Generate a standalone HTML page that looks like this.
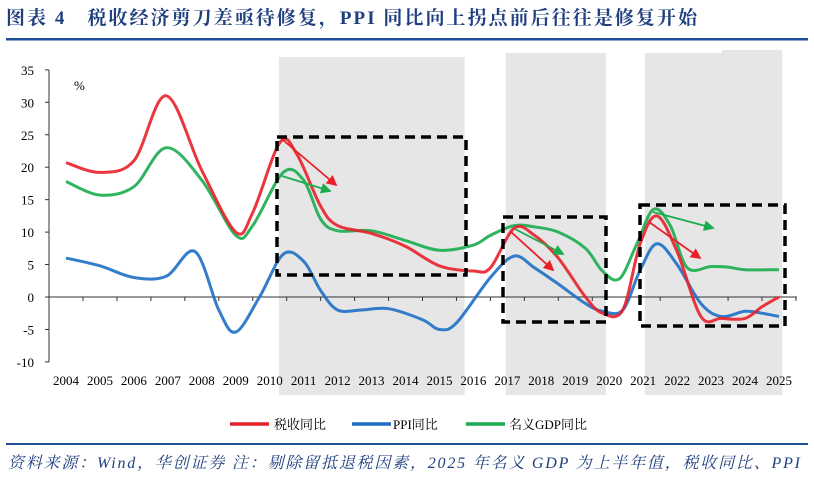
<!DOCTYPE html>
<html><head><meta charset="utf-8">
<style>
body{margin:0;background:#fff;width:814px;height:477px;overflow:hidden;font-family:"Liberation Serif","Noto Serif CJK SC",serif;}
svg text{font-family:"Liberation Serif","Noto Serif CJK SC",serif;}
</style></head><body>
<svg width="814" height="477">
<text x="6" y="24" font-size="19" font-weight="bold" fill="#1f3f7f" textLength="691" lengthAdjust="spacing">图表 4　税收经济剪刀差亟待修复，PPI 同比向上拐点前后往往是修复开始</text>
<rect x="6" y="38" width="802" height="2.5" fill="#1f4e9a"/>
<g id="bands"></g>
<g id="axes"></g>
<g id="series"></g>
<g id="boxes"></g>
<g font-size="13">
 <line x1="230" y1="424" x2="269" y2="424" stroke="#e8202a" stroke-width="3.5"/>
 <text x="274" y="429">税收同比</text>
 <line x1="352" y1="424" x2="391" y2="424" stroke="#1e6fc4" stroke-width="3.5"/>
 <text x="393" y="429">PPI同比</text>
 <line x1="466" y1="424" x2="505" y2="424" stroke="#1aac4f" stroke-width="3.5"/>
 <text x="509" y="429">名义GDP同比</text>
</g>
<rect x="6" y="443" width="802" height="2" fill="#1f4e9a"/>
<text x="8" y="468" font-size="16" font-style="italic" fill="#1f3f7f" textLength="792" lengthAdjust="spacing">资料来源：Wind，华创证券 注：剔除留抵退税因素，2025 年名义 GDP 为上半年值，税收同比、PPI</text>
</svg>
<script>
const years=[2004,2005,2006,2007,2008,2009,2010,2011,2012,2013,2014,2015,2016,2017,2018,2019,2020,2021,2022,2023,2024,2025];
const yTicks=[35,30,25,20,15,10,5,0,-5,-10];
const taxT=[2004,2005,2006,2006.95,2008,2009,2009.5,2010.3,2010.8,2011.5,2012,2013,2014,2015,2016,2016.5,2017.2,2017.8,2018.5,2019.3,2019.8,2020.4,2020.9,2021.4,2022,2022.7,2023.3,2024,2024.5,2025];
const taxV=[20.7,19.2,21,31,19.5,10,13,23.8,22,14,11,9.8,7.8,4.8,4,4.5,10.6,9.5,6,0,-2.5,-2,8,12.5,7,-3,-3.3,-3.3,-1.5,0];
const ppiT=[2004,2005,2006,2006.95,2007.8,2008.5,2009,2009.7,2010.4,2011,2011.5,2012,2012.7,2013.5,2014.5,2015,2015.5,2016.5,2017.2,2017.8,2018.5,2019.3,2019.8,2020.4,2020.9,2021.4,2022,2022.7,2023.3,2024,2024.5,2025];
const ppiV=[6,4.8,3,3.2,7,-2,-5.4,0,6.6,5.5,1,-2,-2,-1.8,-3.5,-5,-4,3,6.3,4.5,2,-1,-2.2,-2,4,8.2,5,-1,-3,-2.2,-2.5,-3];
const gdpT=[2004,2005,2006,2006.95,2008,2009,2009.5,2010.4,2011,2011.5,2012,2013,2014,2015,2016,2016.5,2017.2,2017.8,2018.5,2019.3,2019.8,2020.3,2020.8,2021.3,2021.8,2022.3,2023,2023.5,2024,2025];
const gdpV=[17.8,15.7,17,23,18,9.5,11,19.2,18,12,10.2,10.2,8.7,7.2,8,9.5,11,10.8,10,7.5,4,2.8,8,13.5,11,4.5,4.7,4.6,4.2,4.2];
const bands=[[2010.27,2015.74],[2016.95,2019.9],[2021.05,2025.1]];
const X=y=>66+(y-2004)*33.95, Y=v=>297-v*6.49;
const NS='http://www.w3.org/2000/svg';
function mk(tag,attrs,parent){const e=document.createElementNS(NS,tag);for(const k in attrs)e.setAttribute(k,attrs[k]);parent.appendChild(e);return e;}
const gB=document.getElementById('bands');
bands.forEach((b,i)=>{const r=mk('rect',{x:X(b[0]),y:i==0?57:53,width:X(b[1])-X(b[0]),height:i==0?338:342,fill:'#e6e6e6'},gB);

});
const ex=mk('rect',{x:722,y:50,width:60,height:10,fill:'#e6e6e6'},gB);


const gA=document.getElementById('axes');
const ya=mk('line',{x1:49,y1:70,x2:49,y2:362,stroke:'#333'},gA);


yTicks.forEach(v=>{mk('line',{x1:45,x2:49,y1:Y(v),y2:Y(v),stroke:'#333'},gA);
const t=mk('text',{x:34,y:Y(v)+5,'font-size':13,'text-anchor':'end'},gA);t.textContent=v;

});
const xa=mk('line',{x1:49,y1:297,x2:797,y2:297,stroke:'#333'},gA);


years.forEach((yr,i)=>{mk('line',{x1:X(yr)+17,x2:X(yr)+17,y1:297,y2:301,stroke:'#333'},gA);
const t=mk('text',{x:X(yr),y:385,'font-size':13,'text-anchor':'middle'},gA);t.textContent=yr;

});
const pc=mk('text',{x:74,y:90,'font-size':13},gA);pc.textContent='%';


function path(ts,vs){const p=ts.map((t,i)=>[X(t),Y(vs[i])]);let d='M'+p[0][0]+','+p[0][1];
for(let i=0;i<p.length-1;i++){const p0=p[i-1]||p[i],p1=p[i],p2=p[i+1],p3=p[i+2]||p2;
d+=` C${p1[0]+(p2[0]-p0[0])/6},${p1[1]+(p2[1]-p0[1])/6} ${p2[0]-(p3[0]-p1[0])/6},${p2[1]-(p3[1]-p1[1])/6} ${p2[0]},${p2[1]}`;}return d;}
const gS=document.getElementById('series');
[[ppiT,ppiV,'#1e6fc4','ppi-line'],[gdpT,gdpV,'#1aac4f','gdp-line'],[taxT,taxV,'#e8202a','tax-line']].forEach(s=>{
const e=mk('path',{d:path(s[0],s[1]),fill:'none',stroke:s[2],'stroke-width':3,'stroke-opacity':0.9},gS);

});
const gX=document.getElementById('boxes');
mk('defs',{},gX).innerHTML='<marker id="ar" markerWidth="6" markerHeight="6" refX="5" refY="3" orient="auto"><path d="M0,0L6,3L0,6z" fill="#e8202a"/></marker><marker id="ag" markerWidth="6" markerHeight="6" refX="5" refY="3" orient="auto"><path d="M0,0L6,3L0,6z" fill="#1aac4f"/></marker>';
[[277,137,466,275],[503,217,606,322],[640,205,785,326]].forEach(b=>{
const r=mk('rect',{x:b[0],y:b[1],width:b[2]-b[0],height:b[3]-b[1],fill:'none',stroke:'#000','stroke-width':3.5,'stroke-dasharray':'10,6'},gX);

});
[[283,140,336,185,'r'],[282,176,330,191,'g'],[510,231,553,270,'r'],[515,229,563,254,'g'],[649,222,700,258,'r'],[653,212,713,228,'g']].forEach(a=>{
const l=mk('line',{x1:a[0],y1:a[1],x2:a[2],y2:a[3],stroke:a[4]=='r'?'#e8202a':'#1aac4f','stroke-width':1.8,'marker-end':'url(#a'+a[4]+')'},gX);

});
</script>
</body></html>
